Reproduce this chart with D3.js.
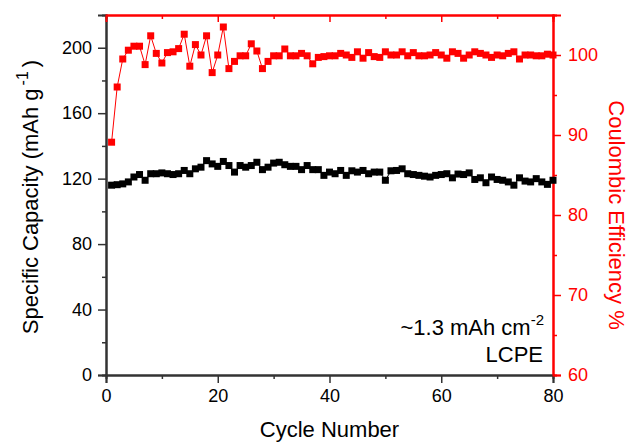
<!DOCTYPE html>
<html>
<head>
<meta charset="utf-8">
<script src="https://cdn.jsdelivr.net/npm/d3@7"></script>
<style>
  body { margin: 0; background: #fff; }
  text { font-family: "Liberation Sans", Arial, sans-serif; }
</style>
</head>
<body>
<div id="chart"></div>
<script>
// cycle numbers 1..80
var cycles = d3.range(1, 81);

// specific capacity, mAh/g
var capacity = [
  116, 116.3, 116.8, 118, 121, 122.5, 119, 123, 123, 123.5,
  123, 122.5, 123, 125, 123, 126, 127, 131, 129, 127.5,
  130.5, 128, 124, 128, 127, 128, 130, 125.5, 127, 129.5,
  130, 128.5, 127.5, 127.5, 125.5, 128, 125.5, 125.5, 122, 124,
  123, 125, 122, 124.8, 124, 125, 123, 124, 124, 119,
  124.8, 125, 126, 123, 122.5, 122, 121.5, 121, 122, 122.5,
  123, 120.5, 122.8, 122.5, 123.5, 119.5, 120.5, 117.5, 121, 119.5,
  119, 118, 116, 120.5, 118.5, 118, 120, 118, 116.5, 119
];

// coulombic efficiency, %
var efficiency = [
  89.1, 96.0, 99.5, 100.6, 101.1, 101.1, 98.8, 102.4, 100.2, 99.0,
  100.3, 100.4, 100.8, 102.6, 98.6, 101.3, 100.0, 102.4, 97.8, 100.0,
  103.5, 98.3, 99.2, 99.9, 99.9, 101.4, 100.5, 98.3, 99.2, 99.9,
  99.9, 100.75, 99.9, 99.9, 100.2, 99.9, 98.9, 99.7, 99.8, 99.9,
  99.9, 100.2, 100.0, 99.7, 100.4, 99.6, 100.3, 99.8, 99.7, 100.4,
  100.0, 100.0, 100.4, 99.9, 100.3, 99.9, 99.9, 100.0, 100.3, 100.0,
  99.6, 100.4, 100.2, 99.6, 100.0, 100.4, 100.2, 100.0, 99.7, 100.0,
  99.9, 100.2, 100.4, 99.5, 100.0, 100.0, 99.9, 99.9, 100.1, 100.0
];

var xTicks = [0, 20, 40, 60, 80];
var leftTicks = [0, 40, 80, 120, 160, 200];
var rightTicks = [60, 70, 80, 90, 100];

var W = 632, H = 442;
var margin = {top: 15, right: 79, bottom: 67, left: 106};
var width = W - margin.left - margin.right,
    height = H - margin.top - margin.bottom;
var red = "#ff0000", dark = "#333333";

var svg = d3.select("#chart").append("svg")
  .attr("width", W).attr("height", H)
  .append("g")
  .attr("transform", "translate(" + margin.left + "," + margin.top + ")");

var x = d3.scaleLinear().domain([0, 80]).range([0, width]);
var yL = d3.scaleLinear().domain([0, 220]).range([height, 0]);
var yR = d3.scaleLinear().domain([60, 105]).range([height, 0]);

function styleAxis(g, color, fontSize) {
  g.select(".domain").attr("stroke", color).attr("stroke-width", 2);
  g.selectAll(".tick line").attr("stroke", color).attr("stroke-width", 1.5);
  g.selectAll(".tick text").attr("fill", color)
    .style("font-size", fontSize + "px")
    .style("font-family", "'Liberation Sans', Arial, sans-serif");
}

// minor ticks first, then major axes over them
svg.append("g")
  .attr("transform", "translate(0," + height + ")")
  .call(d3.axisBottom(x).tickValues([10, 30, 50, 70]).tickSize(4).tickFormat(""))
  .call(function(g){ styleAxis(g, dark, 18); });
svg.append("g")
  .call(d3.axisLeft(yL).tickValues([20, 60, 100, 140, 180]).tickSize(4).tickFormat(""))
  .call(function(g){ styleAxis(g, dark, 18); });
svg.append("g")
  .attr("transform", "translate(" + width + ",0)")
  .call(d3.axisRight(yR).tickValues([65, 75, 85, 95]).tickSize(4).tickFormat(""))
  .call(function(g){ styleAxis(g, red, 18); });
svg.append("g")
  .call(d3.axisTop(x).tickValues([10, 30, 50, 70]).tickSize(-4).tickFormat(""))
  .call(function(g){ styleAxis(g, red, 18); });

var xAxis = svg.append("g")
  .attr("transform", "translate(0," + height + ")")
  .call(d3.axisBottom(x).tickValues(xTicks).tickSize(8).tickPadding(6))
  .call(function(g){ styleAxis(g, dark, 18); });
xAxis.selectAll(".tick text").attr("fill", "#000");

var yAxisL = svg.append("g")
  .call(d3.axisLeft(yL).tickValues(leftTicks).tickSize(8).tickPadding(6))
  .call(function(g){ styleAxis(g, dark, 18); });
yAxisL.selectAll(".tick text").attr("fill", "#000");

svg.append("g")
  .attr("transform", "translate(" + width + ",0)")
  .call(d3.axisRight(yR).tickValues(rightTicks).tickSize(8).tickPadding(7))
  .call(function(g){ styleAxis(g, red, 18); });

svg.append("g")
  .call(d3.axisTop(x).tickValues([20, 40, 60]).tickSize(-7).tickFormat(""))
  .call(function(g){ styleAxis(g, red, 18); });

// data
var capData = cycles.map(function(c, i){ return {c: c, v: capacity[i]}; });
var ceData = cycles.map(function(c, i){ return {c: c, v: efficiency[i]}; });
var sq = 7;

svg.append("path").datum(capData)
  .attr("fill", "none").attr("stroke", "#000").attr("stroke-width", 1)
  .attr("d", d3.line().x(function(d){ return x(d.c); }).y(function(d){ return yL(d.v); }));
svg.selectAll(".cap").data(capData).enter().append("rect")
  .attr("class", "cap")
  .attr("x", function(d){ return x(d.c) - sq/2; })
  .attr("y", function(d){ return yL(d.v) - sq/2; })
  .attr("width", sq).attr("height", sq)
  .attr("fill", "#000");

svg.append("path").datum(ceData)
  .attr("fill", "none").attr("stroke", red).attr("stroke-width", 1)
  .attr("d", d3.line().x(function(d){ return x(d.c); }).y(function(d){ return yR(d.v); }));
svg.selectAll(".ce").data(ceData).enter().append("rect")
  .attr("class", "ce")
  .attr("x", function(d){ return x(d.c) - sq/2; })
  .attr("y", function(d){ return yR(d.v) - sq/2; })
  .attr("width", sq).attr("height", sq)
  .attr("fill", red);

// axis titles
svg.append("text")
  .attr("x", width / 2).attr("y", height + 62)
  .attr("text-anchor", "middle")
  .style("font-size", "22px").attr("fill", "#000")
  .text("Cycle Number");

var lt = svg.append("text")
  .attr("transform", "translate(-68," + (height / 2 + 2) + ") rotate(-90)")
  .attr("text-anchor", "middle")
  .style("font-size", "22px").attr("fill", "#000");
lt.append("tspan").text("Specific Capacity (mAh g");
lt.append("tspan").attr("dx", 3).attr("dy", -10).style("font-size", "16px").text("-1");
lt.append("tspan").attr("dx", 4).attr("dy", 10).text(")");

svg.append("text")
  .attr("transform", "translate(" + (width + 56) + "," + (height / 2 + 20) + ") rotate(90)")
  .attr("text-anchor", "middle")
  .style("font-size", "22px").attr("fill", red)
  .text("Coulombic Efficiency %");

// annotation
var ann = svg.append("text")
  .attr("x", width - 9).attr("y", 320)
  .attr("text-anchor", "end")
  .style("font-size", "22px").attr("fill", "#000");
ann.append("tspan").text("~1.3 mAh cm");
ann.append("tspan").attr("dy", -10).style("font-size", "15px").text("-2");

svg.append("text")
  .attr("x", width - 10).attr("y", 347)
  .attr("text-anchor", "end")
  .style("font-size", "22px").attr("fill", "#000")
  .text("LCPE");
</script>
</body>
</html>
